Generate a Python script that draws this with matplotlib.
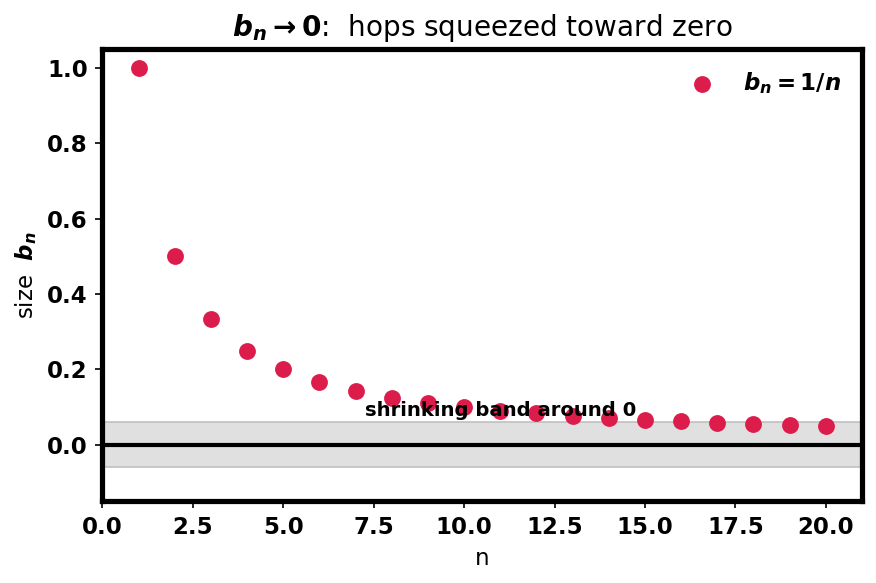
import matplotlib
matplotlib.use("Agg")
import matplotlib.pyplot as plt
import numpy as np

n = np.arange(1, 21)
b = [1.0, 0.5, 0.3333, 0.25, 0.2, 0.1667, 0.1429, 0.125, 0.1111, 0.1,
     0.0909, 0.0833, 0.0769, 0.0714, 0.0667, 0.0625, 0.0588, 0.0556, 0.0526, 0.05]
band = 0.06

fig, ax = plt.subplots(figsize=(5.84, 3.887), dpi=150)
ax.axhspan(-band, band, facecolor="#dddddd", edgecolor="#bbbbbb", linewidth=0.8, alpha=0.9, zorder=0)
ax.axhline(0, color="black", linewidth=2, zorder=1)
ax.scatter(n, b, s=50, color="#dc1c4b", zorder=3, label=r"$\mathbfit{b_n}\mathbf{=1/}\mathbfit{n}$")
ax.text(11, 0.09, "shrinking band around 0", ha="center", va="center",
        fontsize=9.4, fontweight="bold", zorder=4)

ax.set_xlim(0, 21)
ax.set_ylim(-0.15, 1.05)
ax.set_title(r"$\mathbfit{b_n}\mathbf{\rightarrow 0}$:  hops squeezed toward zero", fontsize=13.4)
ax.set_xlabel("n", fontsize=11)
ax.set_ylabel(r"size  $\mathbfit{b_n}$", fontsize=11)
ax.tick_params(labelsize=11)
for lab in ax.get_xticklabels() + ax.get_yticklabels():
    lab.set_fontweight("bold")
for sp in ax.spines.values():
    sp.set_linewidth(2.5)
leg = ax.legend(loc="upper right", frameon=False, fontsize=11)
fig.subplots_adjust(left=0.117, right=0.984, top=0.916, bottom=0.140)
fig.savefig("out.png", dpi=150)
